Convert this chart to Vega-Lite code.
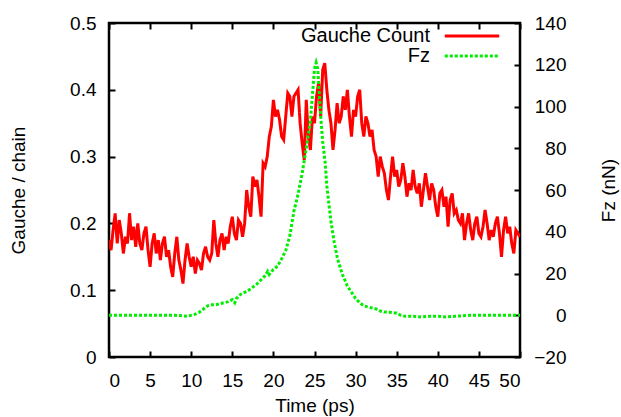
{
  "$schema": "https://vega.github.io/schema/vega-lite/v6.json",
  "width": 411,
  "height": 334,
  "autosize": {"type": "none"},
  "padding": {"left": 109, "top": 23, "right": 101, "bottom": 60},
  "datasets": {
    "gauche": [
      {"t":0,"g":0.175},{"t":0.25,"g":0.16},{"t":0.5,"g":0.19},{"t":0.75,"g":0.215},{"t":1,"g":0.17},{"t":1.25,"g":0.205},{"t":1.5,"g":0.185},{"t":1.75,"g":0.155},{"t":2,"g":0.18},{"t":2.25,"g":0.17},{"t":2.5,"g":0.215},{"t":2.75,"g":0.175},{"t":3,"g":0.195},{"t":3.25,"g":0.165},{"t":3.5,"g":0.2},{"t":3.75,"g":0.17},{"t":4,"g":0.16},{"t":4.25,"g":0.185},{"t":4.5,"g":0.195},{"t":4.75,"g":0.16},
      {"t":5,"g":0.135},{"t":5.25,"g":0.17},{"t":5.5,"g":0.185},{"t":5.75,"g":0.155},{"t":6,"g":0.175},{"t":6.25,"g":0.145},{"t":6.5,"g":0.17},{"t":6.75,"g":0.18},{"t":7,"g":0.15},{"t":7.25,"g":0.16},{"t":7.5,"g":0.135},{"t":7.75,"g":0.12},{"t":8,"g":0.155},{"t":8.25,"g":0.18},{"t":8.5,"g":0.145},{"t":8.75,"g":0.13},{"t":9,"g":0.11},{"t":9.25,"g":0.145},{"t":9.5,"g":0.17},{"t":9.75,"g":0.15},
      {"t":10,"g":0.135},{"t":10.25,"g":0.15},{"t":10.5,"g":0.125},{"t":10.75,"g":0.145},{"t":11,"g":0.14},{"t":11.25,"g":0.13},{"t":11.5,"g":0.155},{"t":11.75,"g":0.165},{"t":12,"g":0.15},{"t":12.25,"g":0.145},{"t":12.5,"g":0.155},{"t":12.75,"g":0.205},{"t":13,"g":0.17},{"t":13.25,"g":0.15},{"t":13.5,"g":0.175},{"t":13.75,"g":0.185},{"t":14,"g":0.16},{"t":14.25,"g":0.18},{"t":14.5,"g":0.17},{"t":14.75,"g":0.195},
      {"t":15,"g":0.21},{"t":15.25,"g":0.185},{"t":15.5,"g":0.175},{"t":15.75,"g":0.205},{"t":16,"g":0.2},{"t":16.25,"g":0.18},{"t":16.5,"g":0.2},{"t":16.75,"g":0.25},{"t":17,"g":0.225},{"t":17.25,"g":0.21},{"t":17.5,"g":0.27},{"t":17.75,"g":0.255},{"t":18,"g":0.265},{"t":18.25,"g":0.24},{"t":18.5,"g":0.21},{"t":18.75,"g":0.29},{"t":19,"g":0.285},{"t":19.25,"g":0.3},{"t":19.5,"g":0.33},{"t":19.75,"g":0.345},
      {"t":20,"g":0.385},{"t":20.25,"g":0.36},{"t":20.5,"g":0.37},{"t":20.75,"g":0.355},{"t":21,"g":0.33},{"t":21.25,"g":0.325},{"t":21.5,"g":0.36},{"t":21.75,"g":0.395},{"t":22,"g":0.39},{"t":22.25,"g":0.36},{"t":22.5,"g":0.39},{"t":22.75,"g":0.395},{"t":23,"g":0.4},{"t":23.25,"g":0.35},{"t":23.5,"g":0.32},{"t":23.75,"g":0.295},{"t":24,"g":0.385},{"t":24.25,"g":0.33},{"t":24.5,"g":0.31},{"t":24.75,"g":0.36},
      {"t":25,"g":0.35},{"t":25.25,"g":0.39},{"t":25.5,"g":0.41},{"t":25.75,"g":0.36},{"t":26,"g":0.43},{"t":26.25,"g":0.44},{"t":26.5,"g":0.4},{"t":26.75,"g":0.37},{"t":27,"g":0.35},{"t":27.25,"g":0.31},{"t":27.5,"g":0.34},{"t":27.75,"g":0.38},{"t":28,"g":0.35},{"t":28.25,"g":0.36},{"t":28.5,"g":0.39},{"t":28.75,"g":0.37},{"t":29,"g":0.4},{"t":29.25,"g":0.36},{"t":29.5,"g":0.33},{"t":29.75,"g":0.37},
      {"t":30,"g":0.36},{"t":30.25,"g":0.39},{"t":30.5,"g":0.4},{"t":30.75,"g":0.35},{"t":31,"g":0.33},{"t":31.25,"g":0.36},{"t":31.5,"g":0.35},{"t":31.75,"g":0.33},{"t":32,"g":0.34},{"t":32.25,"g":0.31},{"t":32.5,"g":0.3},{"t":32.75,"g":0.27},{"t":33,"g":0.3},{"t":33.25,"g":0.285},{"t":33.5,"g":0.275},{"t":33.75,"g":0.25},{"t":34,"g":0.235},{"t":34.25,"g":0.27},{"t":34.5,"g":0.3},{"t":34.75,"g":0.27},
      {"t":35,"g":0.28},{"t":35.25,"g":0.255},{"t":35.5,"g":0.265},{"t":35.75,"g":0.29},{"t":36,"g":0.27},{"t":36.25,"g":0.24},{"t":36.5,"g":0.26},{"t":36.75,"g":0.25},{"t":37,"g":0.28},{"t":37.25,"g":0.255},{"t":37.5,"g":0.245},{"t":37.75,"g":0.26},{"t":38,"g":0.225},{"t":38.25,"g":0.25},{"t":38.5,"g":0.275},{"t":38.75,"g":0.255},{"t":39,"g":0.235},{"t":39.25,"g":0.26},{"t":39.5,"g":0.25},{"t":39.75,"g":0.225},
      {"t":40,"g":0.21},{"t":40.25,"g":0.245},{"t":40.5,"g":0.25},{"t":40.75,"g":0.225},{"t":41,"g":0.24},{"t":41.25,"g":0.195},{"t":41.5,"g":0.235},{"t":41.75,"g":0.245},{"t":42,"g":0.215},{"t":42.25,"g":0.22},{"t":42.5,"g":0.205},{"t":42.75,"g":0.2},{"t":43,"g":0.215},{"t":43.25,"g":0.175},{"t":43.5,"g":0.2},{"t":43.75,"g":0.215},{"t":44,"g":0.19},{"t":44.25,"g":0.175},{"t":44.5,"g":0.2},{"t":44.75,"g":0.21},
      {"t":45,"g":0.185},{"t":45.25,"g":0.18},{"t":45.5,"g":0.195},{"t":45.75,"g":0.22},{"t":46,"g":0.2},{"t":46.25,"g":0.175},{"t":46.5,"g":0.19},{"t":46.75,"g":0.18},{"t":47,"g":0.2},{"t":47.25,"g":0.21},{"t":47.5,"g":0.185},{"t":47.75,"g":0.15},{"t":48,"g":0.19},{"t":48.25,"g":0.21},{"t":48.5,"g":0.185},{"t":48.75,"g":0.195},{"t":49,"g":0.17},{"t":49.25,"g":0.155},{"t":49.5,"g":0.19},{"t":49.75,"g":0.185},{"t":50,"g":0.18}
    ],
    "force": [
      {"t":0,"f":0},{"t":2,"f":0},{"t":4,"f":0},{"t":6,"f":0},{"t":8,"f":0},{"t":9,"f":-0.3},{"t":9.5,"f":-0.5},{"t":10,"f":0},{"t":10.5,"f":0.5},{"t":11,"f":1.5},{"t":11.5,"f":3},{"t":12,"f":4.5},{"t":12.5,"f":5},{"t":13,"f":5},{"t":13.5,"f":5.5},{"t":14,"f":6},{"t":14.5,"f":6.5},{"t":15,"f":7.5},{"t":15.3,"f":6},{"t":15.5,"f":8},{"t":16,"f":10},{"t":16.5,"f":11},{"t":17,"f":12},{"t":17.5,"f":13.5},{"t":18,"f":15},{"t":18.5,"f":17},{"t":19,"f":19},{"t":19.3,"f":21},{"t":19.5,"f":19.5},{"t":20,"f":22},{"t":20.5,"f":23.5},{"t":21,"f":27},{"t":21.5,"f":31},{"t":22,"f":38},{"t":22.5,"f":50},{"t":23,"f":58},{"t":23.5,"f":68},{"t":24,"f":80},{"t":24.5,"f":93},{"t":24.8,"f":108},{"t":25,"f":118},{"t":25.2,"f":121},{"t":25.4,"f":118},{"t":25.6,"f":105},{"t":25.8,"f":93},{"t":26,"f":83},{"t":26.3,"f":73},{"t":26.5,"f":62},{"t":27,"f":45},{"t":27.4,"f":35},{"t":27.8,"f":27},{"t":28.4,"f":19.5},{"t":29,"f":14},{"t":29.5,"f":11},{"t":30,"f":8},{"t":30.5,"f":6},{"t":31,"f":4.5},{"t":31.5,"f":4},{"t":32,"f":3.5},{"t":32.5,"f":3},{"t":33,"f":2},{"t":33.5,"f":1.5},{"t":34,"f":1.5},{"t":35,"f":1},{"t":35.5,"f":0},{"t":36,"f":-0.5},{"t":37,"f":-0.5},{"t":38,"f":-0.8},{"t":39,"f":-0.5},{"t":40,"f":-0.5},{"t":41,"f":-0.8},{"t":42,"f":-0.5},{"t":43,"f":-0.3},{"t":44,"f":0},{"t":46,"f":0},{"t":48,"f":0},{"t":50,"f":0}
    ]
  },
  "layer": [
    {
      "data": {"name": "gauche"},
      "mark": {"type": "line", "strokeWidth": 3, "clip": true},
      "encoding": {
        "x": {"field": "t", "type": "quantitative", "scale": {"domain": [0, 50], "nice": false},
              "axis": {"orient": "bottom", "title": "Time (ps)", "values": [0,5,10,15,20,25,30,35,40,45,50], "labelPadding": 20, "titlePadding": 6}},
        "y": {"field": "g", "type": "quantitative", "scale": {"domain": [0, 0.5], "nice": false},
              "axis": {"orient": "left", "title": "Gauche / chain", "values": [0,0.1,0.2,0.3,0.4,0.5], "labelExpr": "datum.value == 0 ? '0' : format(datum.value, '.1f')", "labelPadding": 19, "titlePadding": 41}},
        "color": {"datum": "Gauche Count", "type": "nominal",
                  "scale": {"domain": ["Gauche Count", "Fz"], "range": ["#ff0000", "#00ee00"]},
                  "legend": {"title": null, "orient": "none", "legendX": 353, "legendY": 3, "symbolType": "M-3.4,0H3.4", "symbolSize": 256, "symbolStrokeWidth": 3, "labelAlign": "right", "labelOffset": -52, "labelFontSize": 20, "labelFont": "Liberation Sans", "labelColor": "black", "rowPadding": -3}},
        "strokeDash": {"datum": "Gauche Count", "type": "nominal",
                  "scale": {"domain": ["Gauche Count", "Fz"], "range": [[1, 0], [3, 2]]},
                  "legend": {"title": null, "orient": "none", "legendX": 353, "legendY": 3, "symbolType": "M-3.4,0H3.4", "symbolSize": 256, "symbolStrokeWidth": 3, "labelAlign": "right", "labelOffset": -52, "labelFontSize": 20, "labelFont": "Liberation Sans", "labelColor": "black", "rowPadding": -3}}
      }
    },
    {
      "data": {"name": "force"},
      "mark": {"type": "line", "strokeWidth": 3, "clip": true},
      "encoding": {
        "x": {"field": "t", "type": "quantitative", "scale": {"domain": [0, 50], "nice": false},
              "axis": {"orient": "top", "title": null, "labels": false, "values": [0,5,10,15,20,25,30,35,40,45,50]}},
        "y": {"field": "f", "type": "quantitative", "scale": {"domain": [-20, 140], "nice": false},
              "axis": {"orient": "right", "title": "Fz (nN)", "titleAngle": 270, "values": [-20,0,20,40,60,80,100,120,140], "labelAlign": "right", "labelPadding": 52, "titlePadding": 52}},
        "color": {"datum": "Fz", "type": "nominal"},
        "strokeDash": {"datum": "Fz", "type": "nominal"}
      }
    }
  ],
  "resolve": {"scale": {"y": "independent"}, "axis": {"x": "independent", "y": "independent"}},
  "config": {
    "background": "white",
    "view": {"stroke": "black", "strokeWidth": 2.5},
    "axis": {"domain": false, "grid": false, "tickColor": "black", "tickSize": -6, "tickWidth": 2,
             "labelFont": "Liberation Sans", "labelFontSize": 19, "labelColor": "black",
             "titleFont": "Liberation Sans", "titleFontSize": 19, "titleFontWeight": "normal", "titleColor": "black"}
  }
}
